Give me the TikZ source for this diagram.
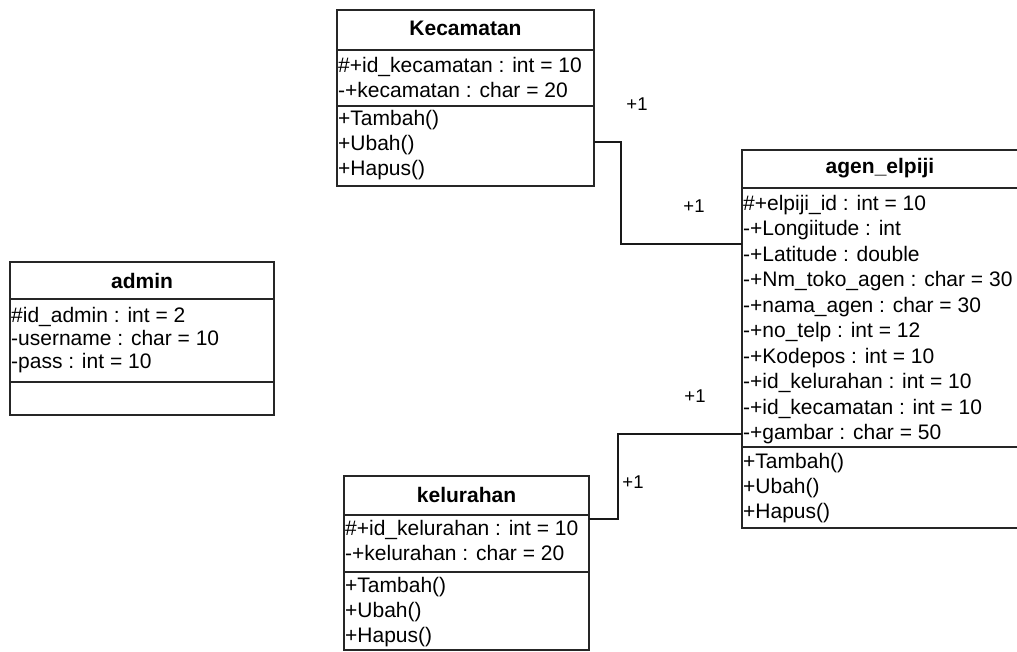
\documentclass[tikz,border=0pt]{standalone}
\usepackage{fontspec}
\setmainfont{Liberation Sans}
\begin{document}
\begin{tikzpicture}[x=1pt,y=-1pt,
  box/.style={draw=black!85, line width=1.4pt, anchor=north west, inner sep=0pt, outer sep=0pt, fill=white},
  sep/.style={draw=black!85, line width=1.4pt},
  conn/.style={draw=black!90, line width=1.2pt},
  txt/.style={anchor=base west, inner sep=0pt, font=\fontsize{21}{25}\selectfont},
  ttl/.style={anchor=base, inner sep=0pt, font=\fontsize{21}{25}\selectfont\bfseries},
  mult/.style={anchor=base, inner sep=0pt, font=\fontsize{18.5}{22}\selectfont}]
\useasboundingbox (0,0) rectangle (1017,651);
\clip (0,0) rectangle (1017,651);

% ---------- Kecamatan ----------
\node[box, minimum width=257, minimum height=176] (kec) at (337,10) {};
\draw[sep] (kec.west |- 0,50) -- (kec.east |- 0,50);
\draw[sep] (kec.west |- 0,106) -- (kec.east |- 0,106);
\node[ttl] (kect) at (465.5,35) {Kecamatan};
\node[txt] (keca1) at (338,72) {\#+id\_kecamatan : int = 10};
\node[txt] (keca2) at (338,97) {-+kecamatan : char = 20};
\node[txt] (kecm1) at (338,125) {+Tambah()};
\node[txt] (kecm2) at (338,150) {+Ubah()};
\node[txt] (kecm3) at (338,175) {+Hapus()};

% ---------- admin ----------
\node[box, minimum width=264, minimum height=153] (adm) at (10,262) {};
\draw[sep] (adm.west |- 0,299) -- (adm.east |- 0,299);
\draw[sep] (adm.west |- 0,382) -- (adm.east |- 0,382);
\node[ttl] (admt) at (142,288) {admin};
\node[txt] (adma1) at (11,322) {\#id\_admin : int = 2};
\node[txt] (adma2) at (11,345) {-username : char = 10};
\node[txt] (adma3) at (11,368) {-pass : int = 10};

% ---------- agen_elpiji ----------
\node[box, minimum width=300, minimum height=378] (agen) at (742,150) {};
\draw[sep] (agen.west |- 0,188) -- (agen.east |- 0,188);
\draw[sep] (agen.west |- 0,447) -- (agen.east |- 0,447);
\node[ttl] (agent) at (880,173) {agen\_elpiji};
\node[txt] (agena1) at (743,210) {\#+elpiji\_id : int = 10};
\node[txt] (agena2) at (743,235.5) {-+Longiitude : int};
\node[txt] (agena3) at (743,261) {-+Latitude : double};
\node[txt] (agena4) at (743,286.5) {-+Nm\_toko\_agen : char = 30};
\node[txt] (agena5) at (743,312) {-+nama\_agen : char = 30};
\node[txt] (agena6) at (743,337.5) {-+no\_telp : int = 12};
\node[txt] (agena7) at (743,363) {-+Kodepos : int = 10};
\node[txt] (agena8) at (743,388.5) {-+id\_kelurahan : int = 10};
\node[txt] (agena9) at (743,414) {-+id\_kecamatan : int = 10};
\node[txt] (agena10) at (743,439.5) {-+gambar : char = 50};
\node[txt] (agenm1) at (743,468) {+Tambah()};
\node[txt] (agenm2) at (743,493) {+Ubah()};
\node[txt] (agenm3) at (743,518) {+Hapus()};

% ---------- kelurahan ----------
\node[box, minimum width=245, minimum height=174] (kel) at (344,476) {};
\draw[sep] (kel.west |- 0,515) -- (kel.east |- 0,515);
\draw[sep] (kel.west |- 0,572) -- (kel.east |- 0,572);
\node[ttl] (kelt) at (466.5,502) {kelurahan};
\node[txt] (kela1) at (345,535) {\#+id\_kelurahan : int = 10};
\node[txt] (kela2) at (345,560) {-+kelurahan : char = 20};
\node[txt] (kelm1) at (345,592) {+Tambah()};
\node[txt] (kelm2) at (345,617) {+Ubah()};
\node[txt] (kelm3) at (345,642) {+Hapus()};

% ---------- connectors ----------
\draw[conn] (kec.east |- 0,142) -- (621,142) |- (agen.west |- 0,244);
\draw[conn] (kel.east |- 0,519) -- (618,519) |- (agen.west |- 0,434);

% ---------- multiplicities ----------
\node[mult] (m1) at (637,110) {+1};
\node[mult] (m2) at (694,212) {+1};
\node[mult] (m3) at (695,402) {+1};
\node[mult] (m4) at (633,488) {+1};
\end{tikzpicture}
\end{document}
